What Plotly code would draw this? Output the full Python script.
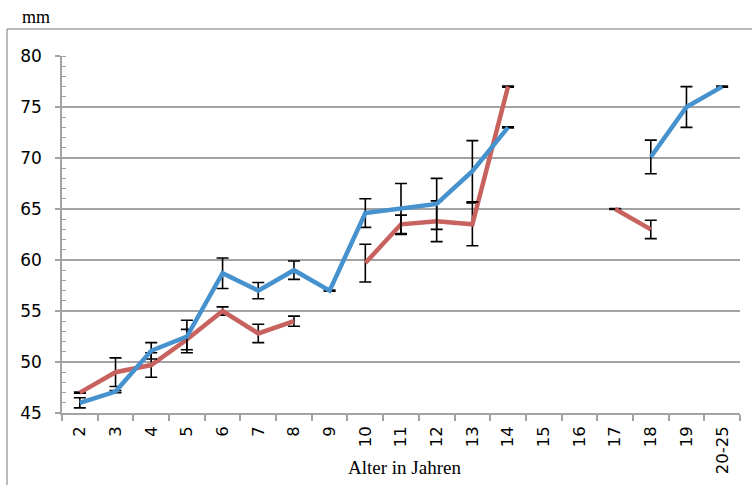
import plotly.graph_objects as go

categories = ["2", "3", "4", "5", "6", "7", "8", "9", "10", "11", "12", "13", "14",
              "15", "16", "17", "18", "19", "20-25"]

blue_values = [46.0, 47.1, 51.1, 52.5, 58.7, 57.0, 59.0, 57.0, 64.6, 65.0, 65.5, 68.7, 73.0,
               None, None, None, 70.1, 75.0, 77.0]
blue_errors = [0.5, 0.1, 0.8, 1.6, 1.5, 0.8, 0.9, 0.05, 1.4, 2.5, 2.5, 3.0, 0.05,
               0, 0, 0, 1.65, 2.0, 0.05]

red_values = [47.0, 49.0, 49.7, 52.2, 55.0, 52.8, 54.0, None, 59.7, 63.5, 63.8, 63.5, 77.0,
              None, None, 65.0, 63.0, None, None]
red_errors = [0.05, 1.4, 1.2, 1.0, 0.4, 0.9, 0.5, 0, 1.85, 0.9, 2.0, 2.1, 0.05,
              0, 0, 0.05, 0.9, 0, 0]

y_ticks = [45, 50, 55, 60, 65, 70, 75, 80]

BLUE = "#4592CE"
RED = "#C7625F"
GRID = "#A3A3A3"
SANS = "DejaVu Sans, Verdana, sans-serif"
SERIF = "Liberation Serif, Times New Roman, serif"

fig = go.Figure()

for vals, errs, col in [(red_values, red_errors, RED), (blue_values, blue_errors, BLUE)]:
    fig.add_trace(go.Scatter(
        x=categories, y=vals, mode="lines",
        line=dict(color=col, width=4.5),
        connectgaps=False,
        error_y=dict(type="data", array=errs, visible=True,
                     color="black", thickness=1.6, width=6),
        showlegend=False, hoverinfo="skip",
    ))

fig.update_layout(
    width=752, height=485,
    margin=dict(l=62, r=12, t=56, b=72),
    paper_bgcolor="white", plot_bgcolor="white",
    font=dict(family=SANS, size=17, color="black"),
    showlegend=False,
)

fig.update_xaxes(
    type="category", categoryorder="array", categoryarray=categories,
    range=[-0.5, len(categories) - 0.5],
    tickangle=-90, tickfont=dict(family=SANS, size=16.5),
    tickson="boundaries", ticks="outside", ticklen=6, tickcolor=GRID, tickwidth=1.5,
    showline=True, linecolor=GRID, linewidth=1.5,
    showgrid=False, zeroline=False, ticklabelstandoff=5,
)

fig.update_yaxes(
    range=[45, 80], tickvals=y_ticks, ticktext=[str(v) for v in y_ticks],
    ticks="outside", ticklen=5, tickcolor=GRID, tickwidth=1.5,
    showline=True, linecolor=GRID, linewidth=1.5,
    showgrid=True, gridcolor=GRID, gridwidth=1.5,
    zeroline=False, tickfont=dict(family=SANS, size=17), ticklabelstandoff=10,
    minor=dict(dtick=1, ticks="inside", ticklen=4, tickcolor=GRID, tickwidth=1.2, showgrid=False),
)

# outer chart frame (left and top edges visible in the reference)
fig.add_shape(type="line", xref="paper", yref="paper", x0=-55/678, x1=1.02, y0=1 + 27/357, y1=1 + 27/357,
              line=dict(color=GRID, width=1.5))
fig.add_shape(type="line", xref="paper", yref="paper", x0=-55/678, x1=-55/678, y0=1 + 27/357, y1=-0.3,
              line=dict(color=GRID, width=1.5))

fig.add_annotation(text="mm", xref="paper", yref="paper", x=-26/678, y=1 + 39/357,
                   showarrow=False, font=dict(family=SERIF, size=18),
                   xanchor="center", yanchor="middle")
fig.add_annotation(text="Alter in Jahren", xref="paper", yref="paper", x=342/678, y=-55/357,
                   showarrow=False, font=dict(family=SERIF, size=19),
                   xanchor="center", yanchor="middle")

fig.write_html("out.html", config={"displayModeBar": False},
               post_script="document.body.style.margin='0px';")
